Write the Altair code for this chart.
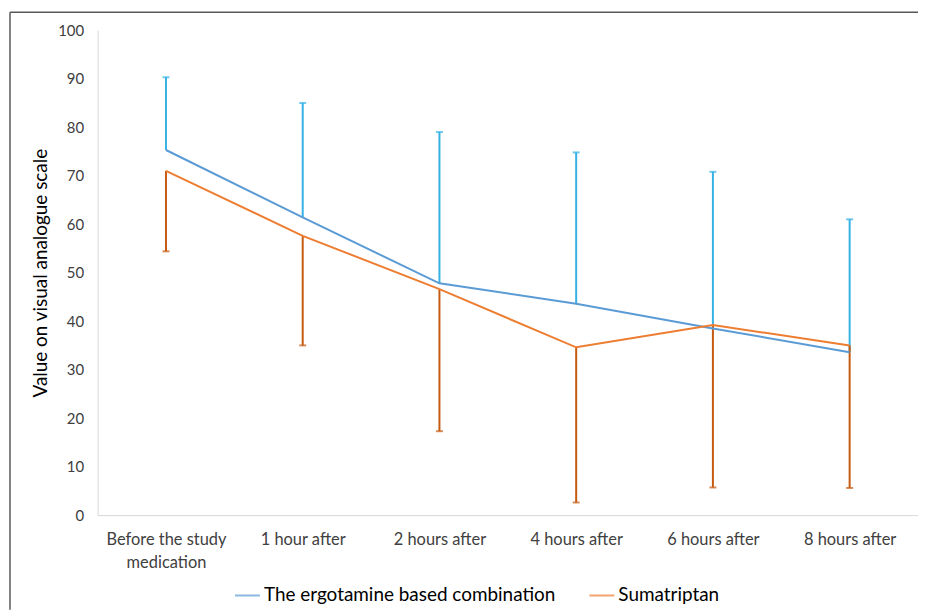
import altair as alt
import pandas as pd

categories = ["Before the study medication", "1 hour after", "2 hours after",
              "4 hours after", "6 hours after", "8 hours after"]
series_names = ["The ergotamine based combination", "Sumatriptan"]
erg_mean = [75.3, 61.4, 47.8, 43.6, 38.5, 33.6]
erg_upper = [90.3, 85.0, 79.0, 74.8, 70.8, 61.0]
sum_mean = [71.0, 57.6, 46.6, 34.6, 39.2, 35.0]
sum_lower = [54.4, 35.0, 17.3, 2.6, 5.7, 5.6]

line_colors = ["#5B9BD5", "#ED7D31"]
err_colors = ["#35B1E4", "#C55A11"]

rows = []
for i, c in enumerate(categories):
    rows.append({"time": c, "series": series_names[0], "mean": erg_mean[i],
                 "bound": erg_upper[i], "ecolor": err_colors[0]})
    rows.append({"time": c, "series": series_names[1], "mean": sum_mean[i],
                 "bound": sum_lower[i], "ecolor": err_colors[1]})
df = pd.DataFrame(rows)

FONT = "Lato"
W, H = 824, 487
PAD_B = 95

xscale = alt.Scale(type="point", padding=0.5)
xenc = alt.X("time:N", sort=categories, scale=xscale,
             axis=alt.Axis(title=None, labelAngle=0, ticks=False, domainColor="#D9D9D9",
                           labelFontSize=16.5, labelColor="#404040", labelPadding=25,
                           labelAlign="center", labelFlush=False, labelOverlap=False,
                           labelLimit=250, labelLineHeight=23, labelFont=FONT,
                           labelExpr="datum.value == 'Before the study medication' ? ['Before the study', 'medication'] : datum.value"))
yscale = alt.Scale(domain=[0, 100])

base = alt.Chart(df)

one = pd.DataFrame({"a": [0]})
frame_top = alt.Chart(one).mark_rule(stroke="#595959", strokeWidth=1.5).encode(
    x=alt.value(-88), x2=alt.value(W), y=alt.value(-18))
frame_left = alt.Chart(one).mark_rule(stroke="#595959", strokeWidth=1.5).encode(
    x=alt.value(-88), y=alt.value(-18), y2=alt.value(H + PAD_B))

lines = base.mark_line(strokeWidth=2).encode(
    x=xenc,
    y=alt.Y("mean:Q", scale=yscale,
            axis=alt.Axis(title="Value on visual analogue scale", values=list(range(0, 101, 10)),
                          grid=False, ticks=False, domainColor="#D9D9D9",
                          labelFontSize=15, labelColor="#404040", labelPadding=14,
                          labelFont=FONT, titleFont=FONT, titleFontSize=19,
                          titleFontWeight="normal", titleColor="#000000", titlePadding=7)),
    color=alt.Color("series:N", sort=series_names,
                    scale=alt.Scale(domain=series_names, range=line_colors),
                    legend=alt.Legend(title=None, orient="none", direction="horizontal",
                                      legendX=137, legendY=554,
                                      symbolType="stroke", symbolSize=625,
                                      symbolStrokeWidth=2, labelFontSize=19,
                                      labelFont=FONT, labelColor="#000000",
                                      labelOffset=3, columnPadding=30, labelLimit=400)),
)

errs = base.mark_rule(strokeWidth=2).encode(
    x=alt.X("time:N", sort=categories, scale=xscale),
    y=alt.Y("mean:Q", scale=yscale),
    y2="bound:Q",
    color=alt.Color("ecolor:N", scale=None),
)

caps = base.mark_tick(orient="horizontal", size=7, thickness=2).encode(
    x=alt.X("time:N", sort=categories, scale=xscale),
    y=alt.Y("bound:Q", scale=yscale),
    color=alt.Color("ecolor:N", scale=None),
)

chart = alt.layer(frame_top, frame_left, errs, caps, lines).properties(
    width=W, height=H,
    autosize=alt.AutoSizeParams(type="none"),
    padding={"left": 90, "top": 21, "right": 0, "bottom": PAD_B},
    background="white",
).configure(font=FONT).configure_view(stroke="transparent", strokeWidth=0)

chart.save("out.html", embed_options={"renderer": "svg", "actions": False})
